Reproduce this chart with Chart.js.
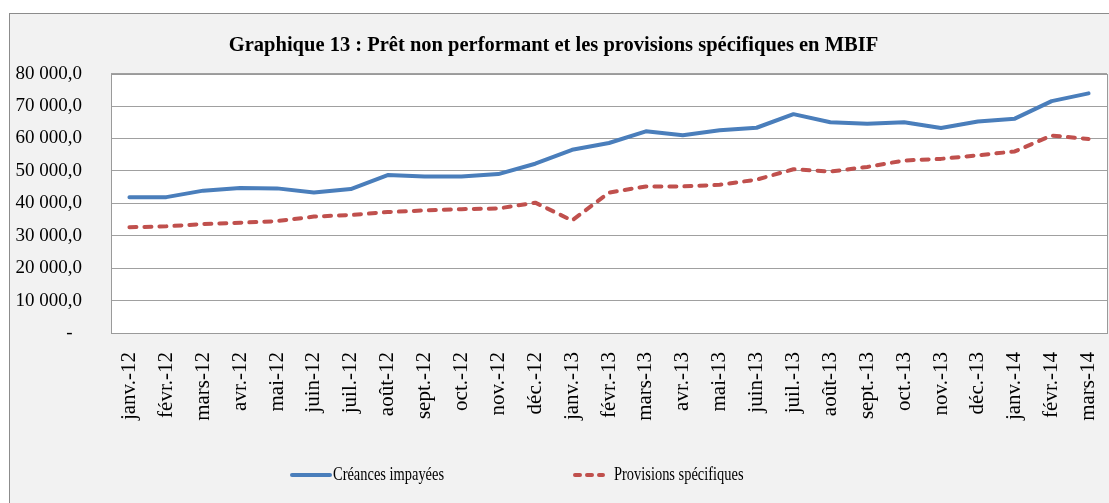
<!DOCTYPE html>
<html>
<head>
<meta charset="utf-8">
<script src="https://cdn.jsdelivr.net/npm/chart.js@4.4.0/dist/chart.umd.min.js"></script>
<style>
  html, body { margin: 0; padding: 0; background: #ffffff; }
</style>
</head>
<body>
<canvas id="GraphPNP" width="1109" height="503"></canvas>
<script>
const mois = ['janv.-12', 'févr.-12', 'mars-12', 'avr.-12', 'mai-12', 'juin-12', 'juil.-12', 'août-12',
    'sept.-12', 'oct.-12', 'nov.-12', 'déc.-12', 'janv.-13', 'févr.-13', 'mars-13', 'avr.-13', 'mai-13',
    'juin-13', 'juil.-13', 'août-13', 'sept.-13', 'oct.-13', 'nov.-13', 'déc.-13', 'janv.-14', 'févr.-14', 'mars-14'];

const creancesImpayees = [41900, 41900, 43900, 44700, 44600, 43300, 44400, 48700, 48300, 48300, 49000, 52200,
    56500, 58600, 62200, 61000, 62500, 63300, 67500, 65000, 64500, 65000, 63200, 65200, 66100, 71500, 73900];

const provisionsSpecifiques = [32600, 32900, 33600, 34000, 34500, 35900, 36400, 37300, 37800, 38200, 38400, 40200,
    34700, 43300, 45200, 45200, 45700, 47300, 50500, 49800, 51200, 53200, 53700, 54800, 56000, 60900, 59800];

const yMin = 0;
const yMax = 80000;
const yPas = 10000;

// format "80 000,0", zéro affiché "-"
function formatMontant(v) {
    if (v === 0) return '-  ';
    return String(v).replace(/\B(?=(\d{3})+(?!\d))/g, ' ') + ',0';
}

// fond gris, cadre et zone du graphique blanche
const fondGraphique = {
    id: 'fondGraphique',
    beforeDraw(chart) {
        const ctx = chart.ctx;
        const a = chart.chartArea;
        ctx.save();
        ctx.fillStyle = '#ffffff';
        ctx.fillRect(0, 0, chart.width, chart.height);
        ctx.fillStyle = '#f2f2f2';
        ctx.fillRect(9.5, 13.5, chart.width, chart.height);
        ctx.strokeStyle = '#8c8c8c';
        ctx.lineWidth = 1;
        ctx.strokeRect(9.5, 13.5, chart.width + 20, chart.height + 20);
        ctx.fillStyle = '#ffffff';
        ctx.fillRect(a.left, a.top, a.width, a.height);
        ctx.restore();
    },
    beforeDatasetsDraw(chart) {
        const ctx = chart.ctx;
        const a = chart.chartArea;
        ctx.save();
        ctx.strokeStyle = '#9a9a9a';
        ctx.lineWidth = 1;
        ctx.strokeRect(Math.round(a.left) + 0.5, Math.round(a.top) + 0.5, Math.round(a.width), Math.round(a.height));
        ctx.restore();
    }
};

// légende en bas, items très espacés (comme dans Excel)
const legendeBas = {
    id: 'legendeBas',
    afterDraw(chart, args, opts) {
        const ctx = chart.ctx;
        ctx.save();
        chart.data.datasets.forEach((ds, i) => {
            const x = opts.positions[i];
            const y = opts.y;
            ctx.strokeStyle = ds.borderColor;
            ctx.lineWidth = ds.borderWidth;
            ctx.lineCap = ds.borderCapStyle || 'butt';
            ctx.setLineDash(opts.tirets[i]);
            ctx.beginPath();
            ctx.moveTo(x + 2, y);
            ctx.lineTo(x + opts.longueurs[i] - 2, y);
            ctx.stroke();
            ctx.setLineDash([]);
            ctx.fillStyle = '#000000';
            ctx.font = opts.police;
            ctx.textBaseline = 'middle';
            ctx.save();
            ctx.translate(x + opts.longueurs[i] + opts.ecart[i], y);
            ctx.scale(opts.condense, 1);
            ctx.fillText(ds.label, 0, 0);
            ctx.restore();
        });
        ctx.restore();
    }
};

const config = {
    type: 'line',
    data: {
        labels: mois,
        datasets: [{
            label: 'Créances impayées',
            data: creancesImpayees,
            borderColor: '#4a7ebb',
            borderWidth: 4,
            borderCapStyle: 'round',
            borderJoinStyle: 'round',
            pointRadius: 0,
            tension: 0
        }, {
            label: 'Provisions spécifiques',
            data: provisionsSpecifiques,
            borderColor: '#c0504d',
            borderWidth: 4,
            borderDash: [7, 8],
            borderCapStyle: 'round',
            borderJoinStyle: 'round',
            pointRadius: 0,
            tension: 0
        }]
    },
    options: {
        responsive: false,
        animation: false,
        layout: {
            padding: { top: 0, left: 0, right: 2, bottom: 0 }
        },
        scales: {
            x: {
                offset: true,
                grid: { display: false },
                border: { display: false },
                ticks: {
                    autoSkip: false,
                    minRotation: 90,
                    maxRotation: 90,
                    padding: 11,
                    color: '#000000',
                    font: { family: 'Liberation Serif', size: 21 }
                },
                afterFit: (s) => {
                    s.height = 170;
                    s.paddingLeft = 0;
                    s.paddingRight = 0;
                }
            },
            y: {
                min: yMin,
                max: yMax,
                grid: { color: '#a0a0a0', lineWidth: 1, drawTicks: false },
                border: { display: false },
                ticks: {
                    stepSize: yPas,
                    padding: 29,
                    color: '#000000',
                    font: { family: 'Liberation Serif', size: 19 },
                    callback: (v) => formatMontant(v)
                },
                afterFit: (s) => { s.width = 111; }
            }
        },
        plugins: {
            title: {
                display: true,
                text: 'Graphique 13 : Prêt non performant et les provisions spécifiques en MBIF',
                color: '#000000',
                font: { family: 'Liberation Serif', size: 20.5, weight: 'bold' },
                padding: { top: 33, bottom: 16 }
            },
            legend: { display: false },
            tooltip: { enabled: false },
            legendeBas: {
                positions: [290, 573],
                longueurs: [42, 32],
                ecart: [1, 9],
                tirets: [[], [5, 7]],
                y: 475,
                police: '19px "Liberation Serif"',
                condense: 0.76
            }
        }
    },
    plugins: [fondGraphique, legendeBas]
};

const canvasElement = document.getElementById('GraphPNP');
const GraphPNP = new Chart(canvasElement, config);
</script>
</body>
</html>
